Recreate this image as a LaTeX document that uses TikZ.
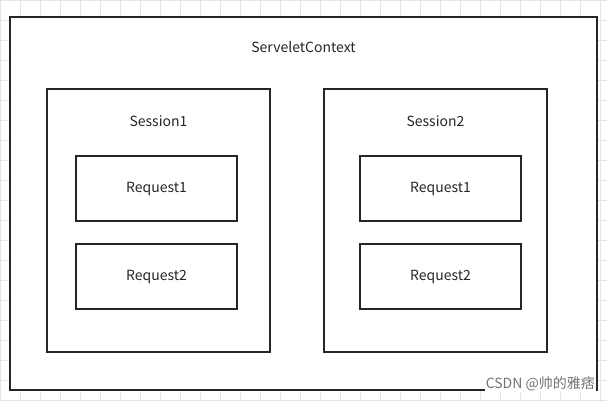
\documentclass[tikz,border=0pt]{standalone}
\usepackage{fontspec}
\setmainfont{Noto Sans CJK SC}
\usetikzlibrary{positioning}
\tikzset{
  box/.style={draw=black!85,fill=white,line width=1.6pt,inner sep=0pt},
  lbl/.style={font=\fontsize{14}{16}\selectfont,text=black!85}
}
\begin{document}
\begin{tikzpicture}[x=1pt,y=-1pt]
  \useasboundingbox (0,0) rectangle (607,402);
  \fill[white] (0,0) rectangle (607,402);
  \foreach \i in {0,20,...,600} \draw[black!10] (\i,0) -- (\i,402);
  \foreach \j in {0,20,...,400} \draw[black!10] (0,\j) -- (607,\j);
  % boxes
  \node[box,minimum width=587,minimum height=373] (ctx) at (303.5,203.5) {};
  \node[box,minimum width=223,minimum height=263] (s1) at (158.5,220.5) {};
  \node[box,minimum width=223,minimum height=263] (s2) at (435.5,220.5) {};
  \node[box,minimum width=161,minimum height=65] (r11) at (156.5,188.5) {};
  \node[box,minimum width=161,minimum height=65] (r12) at (156.5,276.5) {};
  \node[box,minimum width=161,minimum height=65] (r21) at (440.5,188.5) {};
  \node[box,minimum width=161,minimum height=65] (r22) at (440.5,276.5) {};
  % labels
  \node[lbl] (tctx) at (303.5,47) {ServeletContext};
  \node[lbl] (ts1) at (158.5,121) {Session1};
  \node[lbl] (ts2) at (435.5,121) {Session2};
  \node[lbl] at (r11) {Request1};
  \node[lbl] at (r12) {Request2};
  \node[lbl] at (r21) {Request1};
  \node[lbl] at (r22) {Request2};
  \node[lbl,text=black!55,fill=white,inner sep=1pt,anchor=east] (wm) at (596,384) {CSDN @帅的雅痞};
\end{tikzpicture}
\end{document}
